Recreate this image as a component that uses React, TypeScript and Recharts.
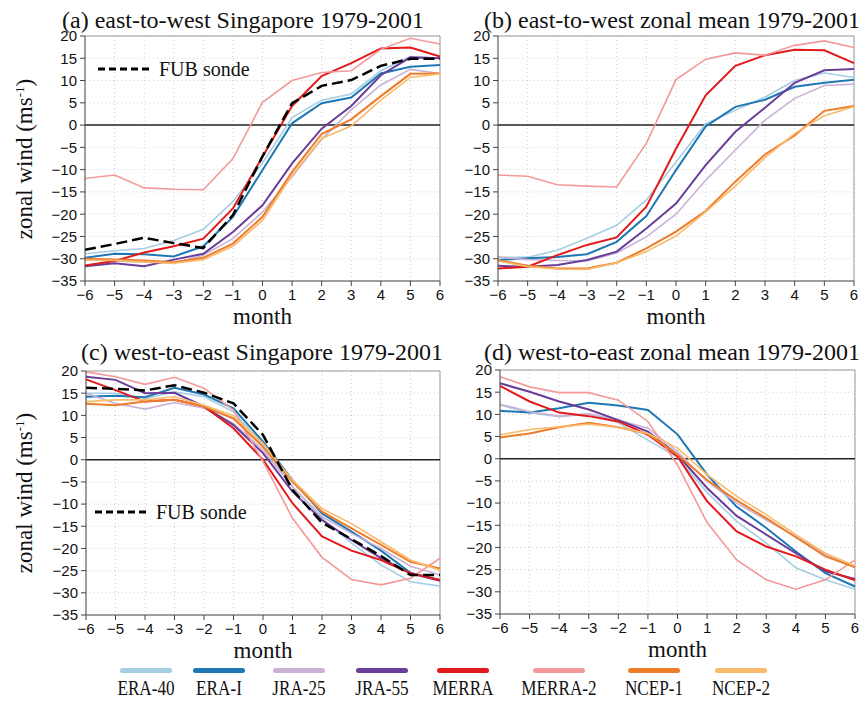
import React from "react"
import { CartesianGrid, Line, LineChart, ReferenceLine, XAxis, YAxis } from "recharts"

const months = [-6, -5, -4, -3, -2, -1, 0, 1, 2, 3, 4, 5, 6]
const yTicks = [-35, -30, -25, -20, -15, -10, -5, 0, 5, 10, 15, 20]

const seriesNames = ["ERA-40", "ERA-I", "JRA-25", "JRA-55", "MERRA", "MERRA-2", "NCEP-1", "NCEP-2"]
const seriesKeys = ["era40", "eraI", "jra25", "jra55", "merra", "merra2", "ncep1", "ncep2"]
const seriesColors = ["#a6cee3", "#1f78b4", "#cab2d6", "#6a3d9a", "#e31a1c", "#f4999a", "#ee7d2a", "#f9bb6c"]
const seriesWidths = [1.6, 2, 1.6, 2, 2, 1.6, 2, 1.6]

// (a) east-to-west, Singapore
const aEra40 = [-28.9, -28.2, -27.7, -25.9, -23.4, -17.2, -8.5, 1.7, 5.6, 7, 12.2, 15.4, 15]
const aEraI = [-29.8, -28.9, -29, -29.5, -27.2, -20.6, -10.1, 0.4, 4.9, 6.2, 11.6, 13.1, 13.5]
const aJra25 = [-30.2, -30.5, -30.8, -31, -29.2, -25.5, -19.5, -11.6, -3.2, 3.4, 9, 12.5, 11.6]
const aJra55 = [-31.7, -31, -31.7, -30.2, -28.9, -24, -18, -8.6, -0.8, 4.3, 11.2, 15.2, 15]
const aMerra = [-31.5, -30.5, -28.6, -27.2, -25.5, -18.7, -7.1, 4.3, 11, 13.9, 17.2, 17.4, 15.4]
const aMerra2 = [-12, -11.2, -14.1, -14.4, -14.5, -7.5, 5.1, 10, 11.8, 12.2, 17, 19.5, 18.2]
const aNcep1 = [-30, -30.2, -30.4, -30.8, -29.8, -26.6, -20.6, -10.5, -2, 1.3, 6.5, 11.5, 11.6]
const aNcep2 = [-30.3, -30.4, -30.7, -31, -30.2, -27.2, -21.4, -11.2, -3, -0.2, 5.6, 10.7, 11.5]
const aSonde = [-28, -26.7, -25.3, -26.5, -27.6, -20.2, -7, 4.9, 8.8, 10.1, 13.3, 14.9, 14.9]

// (b) east-to-west, zonal mean
const bEra40 = [-29.7, -29.7, -28.1, -25.4, -22.5, -16.8, -8.3, 0.3, 3.3, 6.3, 10, 11.7, 10.7]
const bEraI = [-30.3, -29.9, -29.6, -29, -26.2, -20.4, -10.1, -0.3, 4.1, 5.7, 8.6, 9.5, 10.2]
const bJra25 = [-29.6, -30.2, -30.4, -30.5, -28.7, -25.1, -20, -12.4, -5.6, 1.1, 6, 8.9, 9.2]
const bJra55 = [-31.6, -31.8, -31.4, -30.3, -28.4, -23.2, -17.6, -9, -1.5, 3.9, 9.5, 12.3, 12.6]
const bMerra = [-32.2, -31.8, -29.2, -26.9, -25.2, -18.3, -5.3, 6.7, 13.3, 15.7, 16.9, 16.8, 13.9]
const bMerra2 = [-11.2, -11.5, -13.4, -13.7, -13.9, -4.1, 10.2, 14.8, 16.2, 15.7, 17.9, 18.9, 17.4]
const bNcep1 = [-30.3, -31.6, -32.2, -32.2, -30.9, -27.7, -23.9, -19.3, -12.7, -6.6, -2.3, 3.2, 4.3]
const bNcep2 = [-30.5, -31.8, -32.3, -32.4, -30.9, -28.4, -24.9, -19.5, -13.7, -7.3, -1.9, 2.1, 4.1]

// (c) west-to-east, Singapore
const cEra40 = [15, 15, 13.8, 15.3, 14.2, 10.8, 3.3, -6.1, -13.2, -18.8, -23.7, -27.5, -28.5]
const cEraI = [14.2, 14.4, 14.1, 16.2, 14.7, 11.6, 4.1, -4.6, -12.1, -16.2, -20.5, -25.5, -27.1]
const cJra25 = [15, 12.7, 11.4, 12.9, 11.6, 8.2, 2.2, -6.1, -12.8, -16.6, -20, -24, -26]
const cJra55 = [18.7, 18, 15, 15.1, 12, 7.8, 1.5, -7.2, -13.6, -18.1, -22.2, -25.6, -27.3]
const cMerra = [18.1, 15.7, 13.1, 13.5, 12, 7.1, 0, -9.8, -17.3, -20.5, -22.6, -25.6, -27.1]
const cMerra2 = [19.8, 18.7, 17, 18.6, 16.1, 11.2, -0.4, -13.2, -22, -27, -28.2, -26.7, -22.2]
const cNcep1 = [12.6, 12.3, 13.1, 13.5, 12, 9.3, 2.9, -5, -11.7, -15.5, -19.2, -23, -24.5]
const cNcep2 = [13.1, 13.5, 13.5, 14.2, 12.3, 9.9, 3.7, -4.6, -11, -14.4, -18.5, -22.6, -24.9]
const cSonde = [16.2, 16, 15.6, 16.8, 15.1, 12.7, 5.6, -6.8, -14.2, -17.9, -21.7, -26, -26]

// (d) west-to-east, zonal mean
const dEra40 = [12.1, 10.4, 9.5, 10.1, 8.1, 4.2, 0.3, -7.6, -14.1, -19, -24.6, -27.3, -29.4]
const dEraI = [10.8, 10.4, 11.4, 12.6, 12, 11, 5.5, -3.6, -10.8, -15.6, -20.9, -25.8, -28.8]
const dJra25 = [12.3, 10.6, 9.6, 10.1, 8.7, 6.9, 1.6, -5.1, -10, -13.8, -17.5, -21.6, -24.6]
const dJra55 = [17, 15.1, 12.9, 11.1, 8.7, 6.1, 0.9, -6.6, -12.9, -17.1, -21.3, -25.4, -27.1]
const dMerra = [16.4, 12.9, 10.4, 9.6, 8.4, 5.4, 0.5, -9.6, -16.4, -19.8, -22, -25, -27.4]
const dMerra2 = [18.5, 16.2, 14.9, 14.9, 13.2, 8.4, -1.4, -14.4, -22.8, -27.3, -29.4, -27.3, -22.8]
const dNcep1 = [4.8, 5.7, 7.1, 8.1, 7.1, 5.6, 0.9, -4.8, -9.4, -13.4, -17.7, -22, -24.4]
const dNcep2 = [5.4, 6.6, 7.2, 7.8, 7.1, 5.7, 2.4, -3.6, -8.5, -12.6, -17.1, -21.3, -24.1]

const buildRows = (series: number[][], sonde?: number[]) =>
  months.map((m, i) => {
    const row: Record<string, number> = { m }
    seriesKeys.forEach((k, j) => {
      row[k] = series[j][i]
    })
    if (sonde) row.sonde = sonde[i]
    return row
  })

const serif = "'Liberation Serif', 'Times New Roman', serif"
const sans = "'Liberation Sans', Arial, sans-serif"
const fmt = (v: number) => String(v).replace("-", "\u2212")

type PanelProps = {
  title: string
  titleLeft: number
  titleTop: number
  rows: Record<string, number>[]
  left: number
  top: number
  width: number
  height: number
  sondeKey?: boolean
  sondeLegendTop?: number
  sondeLegendLeft?: number
  yLabel?: boolean
}

function Panel(p: PanelProps) {
  const axisW = 60
  const padTop = 10
  return (
    <>
      <div style={{ position: "absolute", left: p.left - axisW, top: p.top - padTop }}>
        <LineChart width={axisW + p.width + 5} height={p.height + padTop + 35} data={p.rows} margin={{ top: padTop, right: 5, left: 0, bottom: 5 }}>
          <CartesianGrid stroke="#cfcfcf" strokeDasharray="1 3" />
          <XAxis dataKey="m" type="number" domain={[-6, 6]} ticks={months} interval={0} tickFormatter={fmt} tickSize={5} tickMargin={3} height={30} stroke="#444" tick={{ fill: "#111", fontSize: 15, fontFamily: sans }} />
          <YAxis type="number" domain={[-35, 20]} ticks={yTicks} interval={0} tickFormatter={fmt} tickSize={5} tickMargin={3} width={axisW} stroke="#444" tick={{ fill: "#111", fontSize: 15, fontFamily: sans }} allowDataOverflow />
          <ReferenceLine y={20} stroke="#999" />
          <ReferenceLine x={6} stroke="#999" />
          <ReferenceLine y={0} stroke="#222" strokeWidth={1.5} />
          {seriesKeys.map((k, i) => (
            <Line key={k} dataKey={k} stroke={seriesColors[i]} strokeWidth={seriesWidths[i]} dot={false} isAnimationActive={false} />
          ))}
          {p.sondeKey && <Line dataKey="sonde" stroke="#000" strokeWidth={2.5} strokeDasharray="11 5" dot={false} isAnimationActive={false} />}
        </LineChart>
      </div>
      <div style={{ position: "absolute", left: p.titleLeft, top: p.titleTop, fontFamily: serif, fontSize: 24, lineHeight: "20px", whiteSpace: "nowrap", color: "#111" }}>
        {p.title}
      </div>
      <div style={{ position: "absolute", left: p.left + p.width / 2, top: p.top + p.height + 36, transform: "translate(-50%, -50%)", fontFamily: serif, fontSize: 23, color: "#111" }}>
        month
      </div>
      {p.yLabel && (
        <div style={{ position: "absolute", left: 25, top: p.top + p.height / 2, transform: "translate(-50%, -50%) rotate(-90deg)", fontFamily: serif, fontSize: 23, whiteSpace: "nowrap", color: "#111" }}>
          zonal wind (ms<sup style={{ fontSize: 13 }}>-1</sup>)
        </div>
      )}
      {p.sondeLegendTop !== undefined && (
        <div style={{ position: "absolute", left: p.sondeLegendLeft, top: p.sondeLegendTop - 12, display: "flex", alignItems: "center", height: 24 }}>
          <svg width={56} height={6}>
            <line x1={1} y1={3} x2={55} y2={3} stroke="#000" strokeWidth={3} strokeDasharray="7 4" />
          </svg>
          <span style={{ fontFamily: serif, fontSize: 20, marginLeft: 6, color: "#111" }}>FUB sonde</span>
        </div>
      )}
    </>
  )
}

const legendCenters = [146, 219, 299, 382, 463, 559, 654, 741]

export default function App() {
  const rowsA = buildRows([aEra40, aEraI, aJra25, aJra55, aMerra, aMerra2, aNcep1, aNcep2], aSonde)
  const rowsB = buildRows([bEra40, bEraI, bJra25, bJra55, bMerra, bMerra2, bNcep1, bNcep2])
  const rowsC = buildRows([cEra40, cEraI, cJra25, cJra55, cMerra, cMerra2, cNcep1, cNcep2], cSonde)
  const rowsD = buildRows([dEra40, dEraI, dJra25, dJra55, dMerra, dMerra2, dNcep1, dNcep2])

  return (
    <div style={{ position: "absolute", left: 0, top: 0, width: 865, height: 702, background: "#fff", overflow: "hidden" }}>
      <Panel title="(a) east-to-west Singapore 1979-2001" titleLeft={62} titleTop={10} rows={rowsA} left={85} top={36} width={355} height={245} sondeKey yLabel sondeLegendTop={69} sondeLegendLeft={97} />
      <Panel title="(b) east-to-west zonal mean 1979-2001" titleLeft={484} titleTop={10} rows={rowsB} left={498} top={36} width={356} height={245} />
      <Panel title="(c) west-to-east Singapore 1979-2001" titleLeft={81} titleTop={342} rows={rowsC} left={86} top={371} width={354} height={244} sondeKey yLabel sondeLegendTop={512} sondeLegendLeft={94} />
      <Panel title="(d) west-to-east zonal mean 1979-2001" titleLeft={484} titleTop={342} rows={rowsD} left={500} top={370} width={355} height={244} />
      {seriesNames.map((name, i) => (
        <React.Fragment key={name}>
          <div style={{ position: "absolute", left: legendCenters[i] - 26, top: 668, width: 52, height: 5, borderRadius: 3, background: seriesColors[i] }} />
          <div style={{ position: "absolute", left: legendCenters[i], top: 688, transform: "translate(-50%, -50%) scaleX(0.78)", fontFamily: serif, fontSize: 22, whiteSpace: "nowrap", color: "#111" }}>
            {name}
          </div>
        </React.Fragment>
      ))}
    </div>
  )
}
